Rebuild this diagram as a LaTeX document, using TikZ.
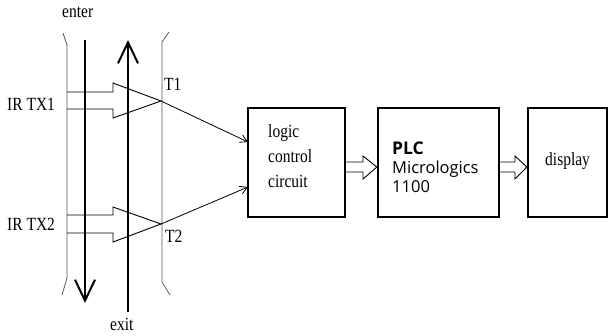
\documentclass[tikz,border=0pt]{standalone}
\usepackage{fontspec}
\setmainfont{Liberation Serif}
\newfontfamily\plcfont{Open Sans}
\usetikzlibrary{arrows.meta}
\newcommand\talltext[1]{\scalebox{1}[1.2]{#1}}
\begin{document}
\begin{tikzpicture}[x=1pt,y=-1pt,
  bracket/.style={draw=gray!70!black, line width=0.8pt},
  flow/.style={line width=2pt, -{Straight Barb[length=21pt,width=20pt,line width=2pt]}},
  hollow/.style={draw, line width=0.9pt, line join=miter},
  box/.style={draw, line width=2.3pt, fill=white, inner sep=0pt, minimum height=109pt},
  thinarrow/.style={line width=0.8pt, -{Straight Barb[length=7pt,width=8pt,line width=0.8pt]}},
  lbl/.style={font=\fontsize{15.5}{18}\selectfont, inner sep=0pt, anchor=base west},
  plc/.style={font=\plcfont\fontsize{16.5}{18}\selectfont, inner sep=0pt, anchor=base west}]
\useasboundingbox (0,0) rectangle (610,335);

% side brackets
\draw[bracket] (63,33) -- (67,45) -- (67,278) -- (62,295);
\draw[bracket] (169,32) -- (162,42) -- (162,282) -- (170,295);

% enter / exit flow
\coordinate (enterTop) at (85,40);
\coordinate (enterEnd) at (85,303);
\coordinate (exitBot) at (128,312);
\coordinate (exitEnd) at (128,40);
\draw[flow] (enterTop) -- (enterEnd);
\draw[flow] (exitBot) -- (exitEnd);
\node[lbl] (enter) at (62,17) {\talltext{enter}};
\node[lbl] (exit) at (110,330) {\talltext{exit}};

% IR transmitters
\node[lbl] (tx1) at (7,110) {\talltext{IR TX1}};
\node[lbl] (tx2) at (7,230) {\talltext{IR TX2}};
\coordinate (T1) at (161,101);
\coordinate (T2) at (161,224);
\draw[hollow] (67,92) -- (113,92) -- (113,83) -- (T1) -- (113,118) -- (113,109) -- (67,109);
\draw[hollow] (67,215) -- (113,215) -- (113,207) -- (T2) -- (113,242) -- (113,233) -- (67,233);
\node[lbl] (t1lbl) at (164,90) {\talltext{T1}};
\node[lbl] (t2lbl) at (165,242) {\talltext{T2}};

% boxes
\node[box, minimum width=97pt] (logic) at (296.5,162.5) {};
\node[box, minimum width=121pt] (plcbox) at (438.5,162.5) {};
\node[box, minimum width=79pt] (disp) at (567.5,162.5) {};

\node[lbl] (l1) at (268,137) {\talltext{logic}};
\node[lbl] (l2) at (268,162) {\talltext{control}};
\node[lbl] (l3) at (268,187) {\talltext{circuit}};

\node[plc, font=\plcfont\bfseries\fontsize{17.5}{18}\selectfont] (p1) at (392,154) {PLC};
\node[plc] (p2) at (392,173) {Micrologics};
\node[plc] (p3) at (392,192) {1100};

\node[lbl] (d1) at (545,165) {\talltext{display}};

% inputs to logic
\coordinate (in1) at (248,142);
\coordinate (in2) at (248,187);
\draw[thinarrow] (T1) -- (in1);
\draw[thinarrow] (T2) -- (in2);

% block arrows between boxes
\coordinate (a1tip) at (plcbox.west |- 0,167);
\coordinate (a2tip) at (disp.west |- 0,167);
\draw[hollow] (logic.east |- 0,162) -- (363,162) -- (363,156) -- (a1tip) -- (363,179) -- (363,172) -- (logic.east |- 0,172);
\draw[hollow] (plcbox.east |- 0,162) -- (515,162) -- (515,156) -- (a2tip) -- (515,179) -- (515,172) -- (plcbox.east |- 0,172);
\end{tikzpicture}
\end{document}
